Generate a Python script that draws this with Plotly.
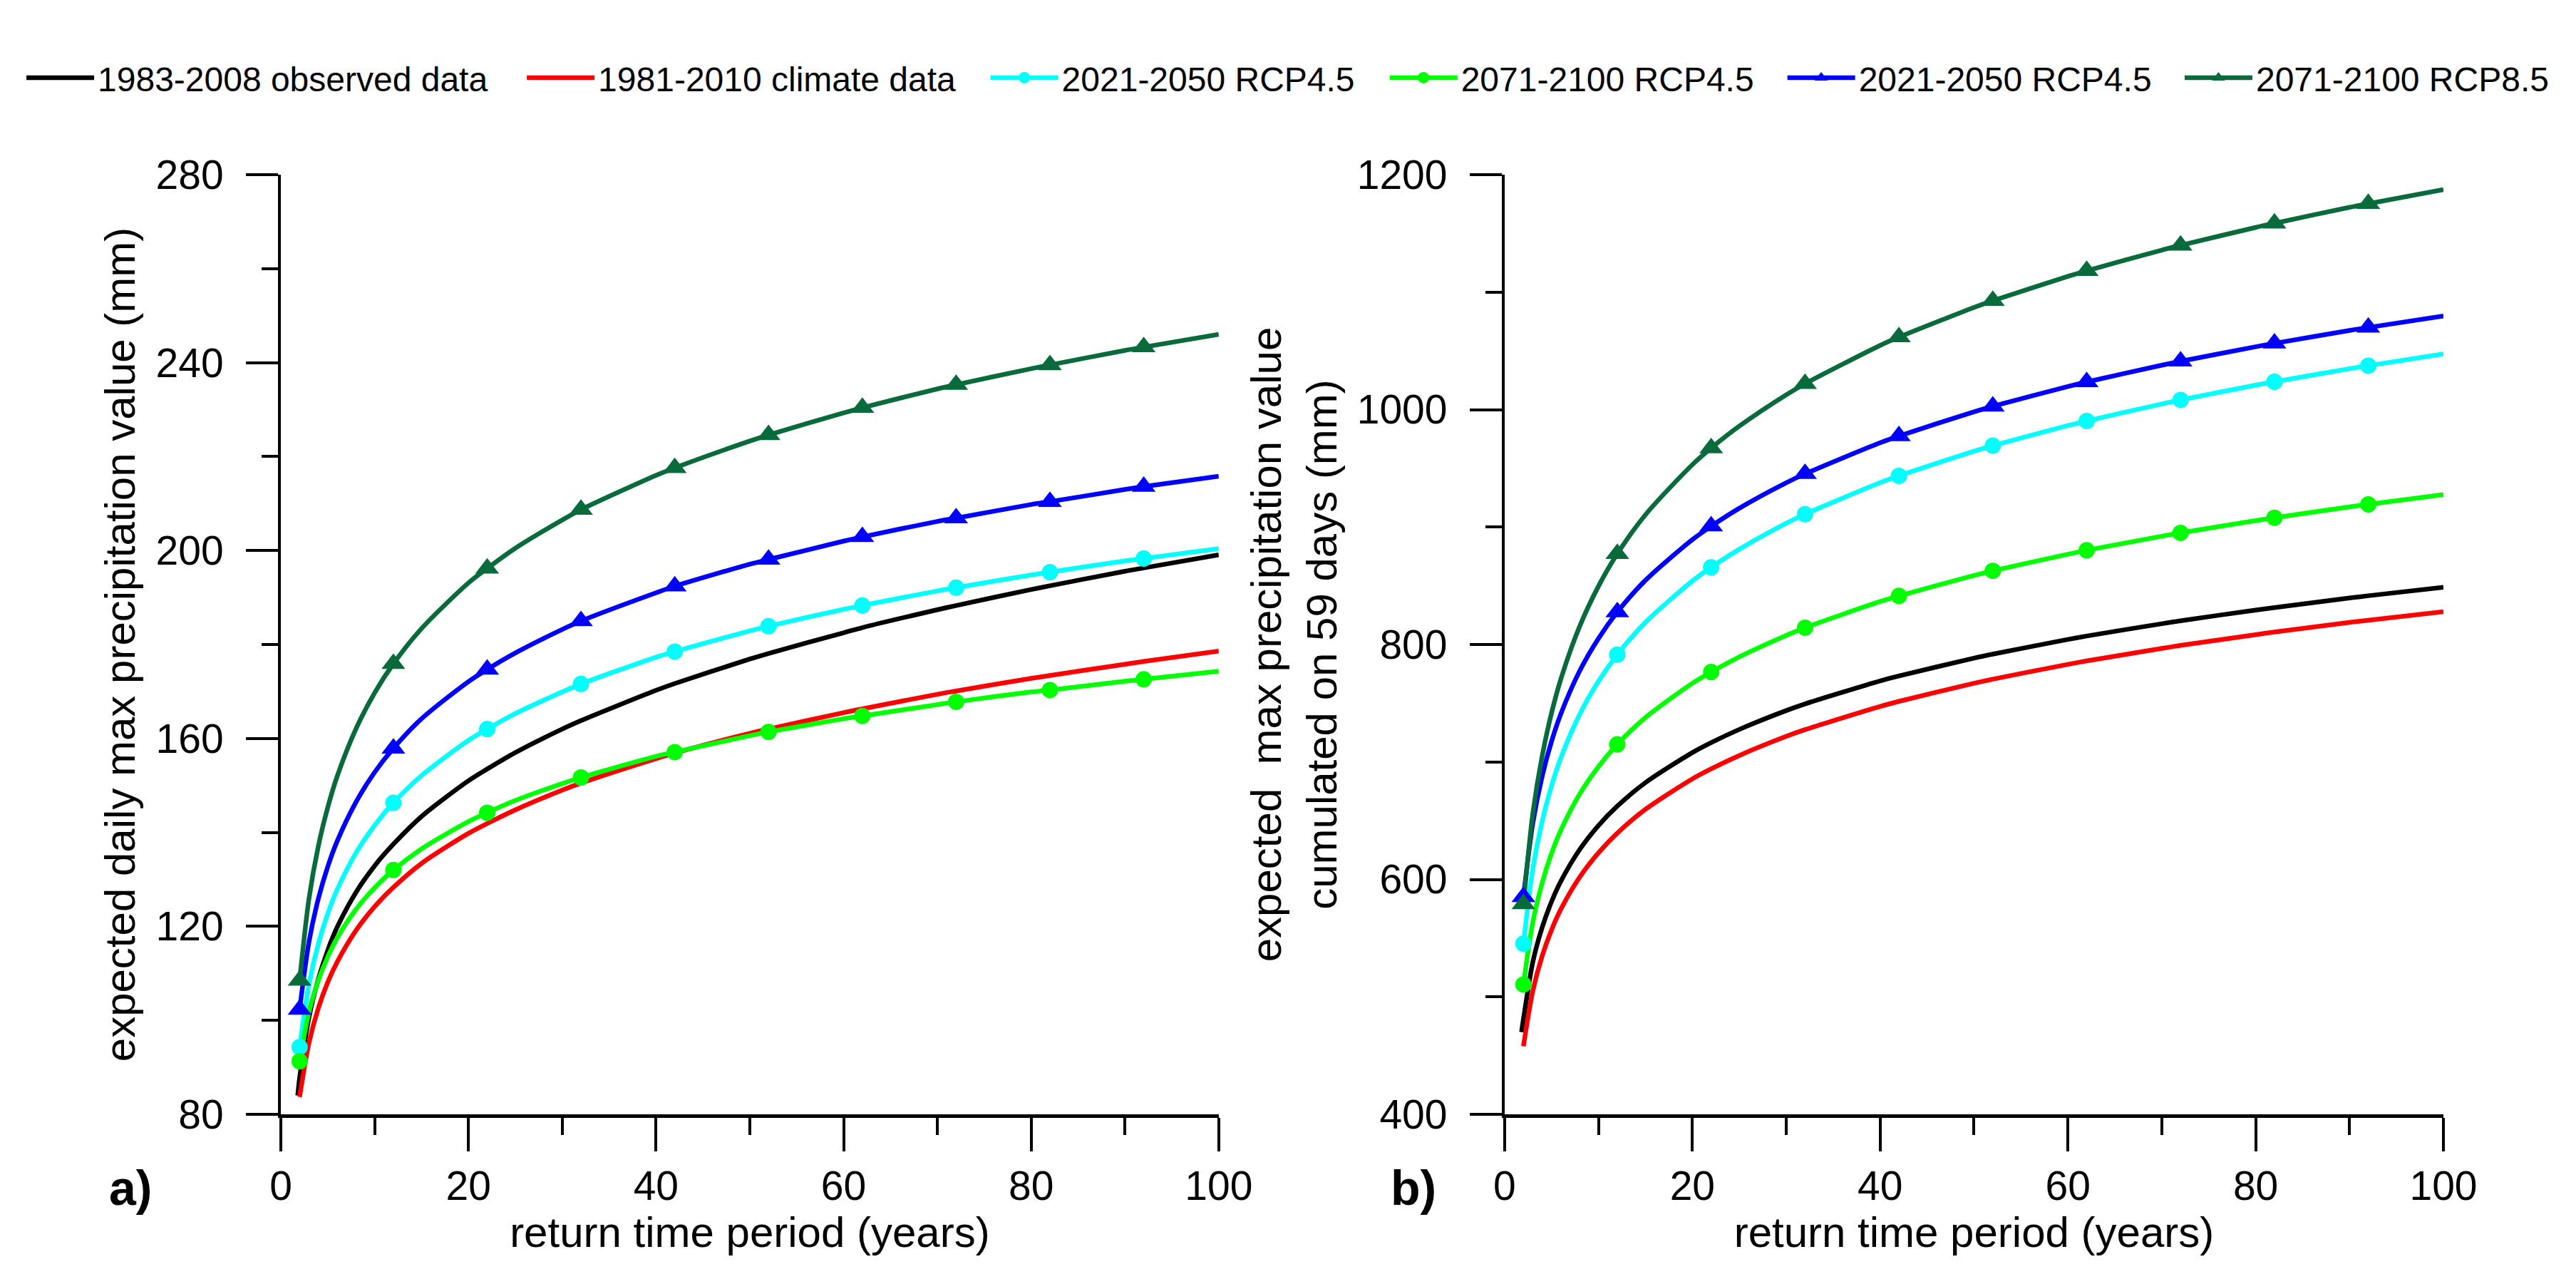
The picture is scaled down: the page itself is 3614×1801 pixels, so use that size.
import plotly.graph_objects as go

# ---------------- data ----------------
T_PTS = [2, 3, 4, 5, 6, 8, 10, 12, 15, 20, 22, 25, 30, 32, 40, 42, 50, 52,
         60, 62, 70, 72, 80, 82, 90, 92, 100]
T_BLACK = [1.8] + T_PTS
MARKER_T = [2, 12, 22, 32, 42, 52, 62, 72, 82, 92]

# panel a) expected daily max precipitation (mm)
a_obs_8308 = [84, 87.7, 100.6, 108.8, 114.9, 119.8, 127.2, 132.9, 137.5, 143.4, 151.0, 153.5,
              157.0, 162.0, 163.8, 170.25, 171.7, 176.9, 178.1, 182.5, 183.6, 187.4, 188.3,
              191.7, 192.5, 195.6, 196.3, 199.1]
a_clim_8110 = [83.7, 95.2, 102.6, 108.1, 112.4, 119.1, 124.2, 128.3, 133.4, 139.8, 141.9, 144.8,
               149.0, 150.5, 155.7, 156.9, 161.1, 162.0, 165.5, 166.3, 169.4, 170.1, 172.8,
               173.4, 175.8, 176.4, 178.6]
a_2150_45_c = [94.3, 107.7, 116.3, 122.7, 127.8, 135.6, 141.5, 146.3, 152.1, 159.6, 162.0, 165.3,
               169.9, 171.6, 177.3, 178.5, 182.9, 183.9, 187.5, 188.3, 191.4, 192.1, 194.8,
               195.4, 197.8, 198.3, 200.4]
a_7100_45 = [91.3, 101.8, 108.5, 113.5, 117.5, 123.6, 128.2, 132.0, 136.5, 142.3, 144.2, 146.8,
             150.4, 151.7, 156.2, 157.1, 160.6, 161.4, 164.2, 164.8, 167.2, 167.8, 169.9,
             170.3, 172.2, 172.6, 174.3]
a_2150_45_b = [102.3, 116.7, 125.9, 132.7, 138.1, 146.4, 152.8, 157.9, 164.2, 172.1, 174.7, 178.2,
               183.2, 185.0, 191.0, 192.4, 197.1, 198.1, 202.0, 202.9, 206.2, 206.9, 209.8,
               210.4, 213.0, 213.6, 215.8]
a_7100_85 = [108.5, 125.9, 137.1, 145.3, 151.9, 162.0, 169.7, 175.9, 183.4, 193.1, 196.2, 200.5,
             206.5, 208.7, 216.0, 217.6, 223.3, 224.6, 229.3, 230.4, 234.4, 235.3, 238.7,
             239.5, 242.6, 243.3, 246.0]

# panel b) expected max precipitation cumulated on 59 days (mm)
b_obs_8308 = [470, 481, 529.6, 559.2, 581.1, 598.6, 625.5, 645.9, 662.4, 682.4, 708, 716.5,
              727.7, 743.8, 749.4, 769, 773.2, 788.4, 791.8, 804.3, 807.2, 817.7, 820.2, 829.3,
              831.4, 839.6, 841.5, 848.7]
b_clim_8110 = [458.0, 504.9, 534.9, 557.1, 574.8, 602.0, 622.7, 639.4, 659.7, 685.6, 694.1,
               705.5, 721.8, 727.5, 747.3, 751.6, 767.0, 770.5, 783.1, 786.0, 796.7, 799.2,
               808.4, 810.6, 818.8, 820.7, 828.0]
b_2150_45_c = [545.3, 608.9, 649.6, 679.7, 703.7, 740.6, 768.7, 791.4, 818.9, 854.1, 865.7,
               881.1, 903.2, 911.0, 937.8, 943.6, 964.6, 969.3, 986.4, 990.3, 1004.8, 1008.2,
               1020.8, 1023.7, 1034.8, 1037.4, 1047.4]
b_7100_45 = [510.5, 563.3, 597.1, 622.2, 642.1, 672.8, 696.1, 715.0, 737.8, 767.0, 776.6, 789.5,
             807.8, 814.3, 836.6, 841.4, 858.8, 862.7, 876.9, 880.2, 892.2, 895.0, 905.5,
             907.9, 917.2, 919.3, 927.6]
b_2150_45_b = [585.2, 647.8, 687.9, 717.6, 741.2, 777.6, 805.2, 827.6, 854.7, 889.3, 900.7,
               916.0, 937.7, 945.3, 971.8, 977.5, 998.1, 1002.8, 1019.6, 1023.5, 1037.8, 1041.1,
               1053.5, 1056.4, 1067.4, 1069.9, 1079.7]
b_7100_85 = [579.0, 656.0, 705.3, 741.8, 770.9, 815.6, 849.7, 877.2, 910.5, 953.1, 967.2, 985.9,
             1012.6, 1022.0, 1054.6, 1061.7, 1087.0, 1092.7, 1113.4, 1118.2, 1135.8, 1139.8,
             1155.1, 1158.6, 1172.2, 1175.3, 1187.3]

NAMES = ["1983-2008 observed data", "1981-2010 climate data", "2021-2050 RCP4.5",
         "2071-2100 RCP4.5", "2021-2050 RCP4.5", "2071-2100 RCP8.5"]
COLORS = ["#000000", "#ff0000", "#00ffff", "#00ff00", "#0000ff", "#096b3c"]
SYMBOLS = [None, None, "circle", "circle", "triangle-up", "triangle-up"]

X_TICKS = [0, 20, 40, 60, 80, 100]
A_TICKS = [80, 120, 160, 200, 240, 280]
B_TICKS = [400, 600, 800, 1000, 1200]

# ---------------- figure ----------------
FONT = "Arial, Liberation Sans, sans-serif"
LW = 6.5
fig = go.Figure()

panels = [
    ("x", "y", [a_obs_8308, a_clim_8110, a_2150_45_c, a_7100_45, a_2150_45_b, a_7100_85]),
    ("x2", "y2", [b_obs_8308, b_clim_8110, b_2150_45_c, b_7100_45, b_2150_45_b, b_7100_85]),
]
for xa, ya, series in panels:
    for i, vals in enumerate(series):
        tx = T_BLACK if i == 0 else T_PTS
        fig.add_trace(go.Scatter(x=tx, y=vals, xaxis=xa, yaxis=ya, mode="lines",
                                 line=dict(color=COLORS[i], width=LW, shape="spline", smoothing=0.8),
                                 showlegend=False, hoverinfo="skip"))
    for i, vals in enumerate(series):
        if SYMBOLS[i] is None:
            continue
        mx = [t for t in T_PTS if t in MARKER_T]
        my = [v for t, v in zip(T_PTS, vals) if t in MARKER_T]
        sz = 23 if SYMBOLS[i] == "circle" else 29
        fig.add_trace(go.Scatter(x=mx, y=my, xaxis=xa, yaxis=ya, mode="markers",
                                 marker=dict(color=COLORS[i], symbol=SYMBOLS[i], size=sz),
                                 showlegend=False))

# legend entries: one small legend per entry so each sits where the reference puts it
LEGEND_IDS = ["legend", "legend2", "legend3", "legend4", "legend5", "legend6"]
for i in range(6):
    common = dict(x=[None], y=[None], name=NAMES[i], legend=LEGEND_IDS[i], showlegend=True)
    if SYMBOLS[i] is None:
        fig.add_trace(go.Scatter(mode="lines", line=dict(color=COLORS[i], width=LW), **common))
    else:
        fig.add_trace(go.Scatter(mode="lines+markers", line=dict(color=COLORS[i], width=LW),
                                 marker=dict(color=COLORS[i], symbol=SYMBOLS[i], size=30), **common))

axis_common = dict(showline=True, linecolor="black", linewidth=4, ticks="outside",
                   tickcolor="black", tickwidth=3.5, showgrid=False, zeroline=False,
                   tickfont=dict(family=FONT, size=57, color="black"))

xcommon = dict(axis_common, range=[0, 100], tickvals=X_TICKS, ticklen=47, linewidth=5,
               minor=dict(dtick=10, ticklen=24, tickwidth=3.5, tickcolor="black", ticks="outside"),
               ticklabelstandoff=0,
               title=dict(text="return time period (years)", font=dict(family=FONT, size=60, color="black"),
                          standoff=0))

LEGEND_X = [-0.1193, 0.1121, 0.3265, 0.5111, 0.6950, 0.8787]
legend_layouts = {}
for lid, lx in zip(LEGEND_IDS, LEGEND_X):
    legend_layouts[lid] = dict(orientation="h", x=lx, xanchor="left", y=1.103, yanchor="middle",
                               font=dict(family=FONT, size=48, color="black"), itemwidth=95,
                               bgcolor="rgba(0,0,0,0)")

fig.update_layout(
    width=3614, height=1801,
    paper_bgcolor="white", plot_bgcolor="white",
    margin=dict(l=386, r=194, t=237, b=246),
    font=dict(family=FONT, color="black"),
    xaxis=dict(xcommon, domain=[0, 0.4337], anchor="y"),
    xaxis2=dict(xcommon, domain=[0.5659, 1.0], anchor="y2"),
    yaxis=dict(axis_common, range=[80, 280], tickvals=A_TICKS, ticklen=45, anchor="x",
               minor=dict(dtick=20, ticklen=23, tickwidth=3.5, tickcolor="black", ticks="outside"),
               ticklabelstandoff=20,
               title=dict(text="expected daily max precipitation value (mm)",
                          font=dict(family=FONT, size=60, color="black"), standoff=10)),
    yaxis2=dict(axis_common, range=[400, 1200], tickvals=B_TICKS, ticklen=45, anchor="x2",
                minor=dict(dtick=100, ticklen=23, tickwidth=3.5, tickcolor="black", ticks="outside"),
                ticklabelstandoff=20,
                title=dict(text="expected\u00a0 max precipitation value<br>cumulated on 59 days (mm)",
                           font=dict(family=FONT, size=60, color="black"), standoff=10)),
    annotations=[
        dict(text="<b>a)</b>", x=-0.0695, y=-0.078, xref="paper", yref="paper",
             showarrow=False, xanchor="center", yanchor="middle",
             font=dict(family=FONT, size=68, color="black")),
        dict(text="<b>b)</b>", x=0.5237, y=-0.078, xref="paper", yref="paper",
             showarrow=False, xanchor="center", yanchor="middle",
             font=dict(family=FONT, size=68, color="black")),
    ],
    **legend_layouts,
)

fig.write_html("out.html")
